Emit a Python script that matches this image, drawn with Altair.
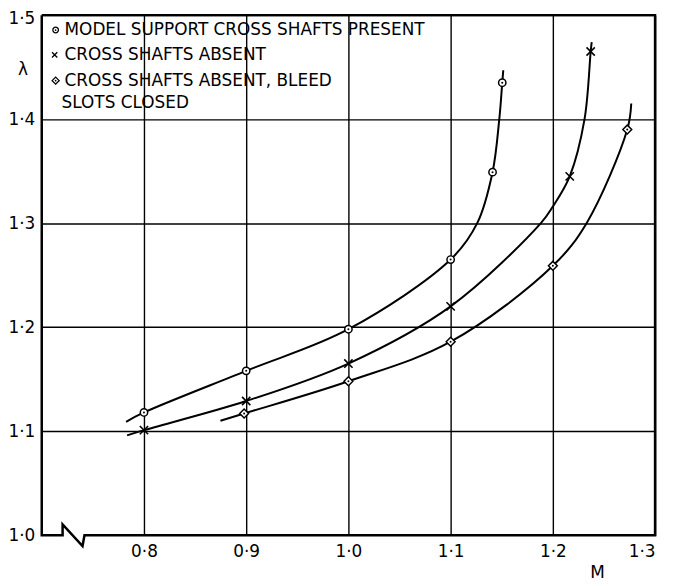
import altair as alt
import pandas as pd

# ---------------- data ----------------
legend_labels = ["MODEL SUPPORT CROSS SHAFTS PRESENT",
                 "CROSS SHAFTS ABSENT",
                 "CROSS SHAFTS ABSENT, BLEED",
                 "SLOTS CLOSED"]

# series 1: model support cross shafts present (circle with dot)
s1_m = [0.8, 0.9, 1.0, 1.1, 1.141, 1.1505]
s1_l = [1.118, 1.158, 1.198, 1.265, 1.349, 1.435]
c1_m = [0.7825, 0.8, 0.9, 1.0, 1.1, 1.126, 1.141, 1.1476, 1.1505, 1.1515]
c1_l = [1.109, 1.118, 1.158, 1.198, 1.265, 1.300, 1.349, 1.400, 1.435, 1.447]

# series 2: cross shafts absent (x)
s2_m = [0.8, 0.9, 1.0, 1.1, 1.2165, 1.237]
s2_l = [1.101, 1.129, 1.165, 1.220, 1.345, 1.465]
c2_m = [0.7835, 0.8, 0.9, 1.0, 1.1, 1.1883, 1.2, 1.2165, 1.231, 1.237, 1.238]
c2_l = [1.096, 1.101, 1.129, 1.165, 1.220, 1.300, 1.316, 1.345, 1.400, 1.465, 1.474]

# series 3: cross shafts absent, bleed slots closed (diamond with dot)
s3_m = [0.898, 1.0, 1.1, 1.2, 1.2728]
s3_l = [1.117, 1.148, 1.186, 1.259, 1.390]
c3_m = [0.8748, 0.898, 1.0, 1.1, 1.2, 1.233, 1.2728, 1.2767]
c3_l = [1.110, 1.117, 1.148, 1.186, 1.259, 1.300, 1.390, 1.415]

x_ticks = [0.8, 0.9, 1.0, 1.1, 1.2, 1.3]
y_ticks = [1.0, 1.1, 1.2, 1.3, 1.4, 1.5]

# frame with axis-break zigzag on the bottom edge
frame_m = [0.7, 0.7, 0.7204, 0.7204, 0.7399, 0.7418, 1.3, 1.3, 0.7]
frame_l = [1.5, 1.0, 1.0, 1.0104, 0.9896, 1.0, 1.0, 1.5, 1.5]

# ---------------- chart ----------------
W, H = 618, 524
FONT = "DejaVu Sans"
XS = alt.Scale(domain=[0.7, 1.3], nice=False, zero=False)
YS = alt.Scale(domain=[1.0, 1.5], nice=False, zero=False)
LBL = "replace(format(datum.value, '.1f'), '.', '\u00b7')"

x_axis = alt.Axis(values=x_ticks, labelExpr=LBL, grid=True, gridColor="black",
                  gridWidth=1.4, ticks=False, domain=False, labelPadding=8,
                  labelFont=FONT, labelFontSize=17, labelColor="black", title=None)
y_axis = alt.Axis(values=y_ticks, labelExpr=LBL, grid=True, gridColor="black",
                  gridWidth=1.4,
                  gridOpacity={"condition": {"test": "datum.value < 1.05", "value": 0}, "value": 1},
                  labelOffset={"condition": {"test": "datum.value > 1.45", "value": 3}, "value": 0},
                  ticks=False, domain=False, labelPadding=7,
                  labelFont=FONT, labelFontSize=17, labelColor="black", title=None)

def X():
    return alt.X("M:Q", scale=XS, axis=x_axis)

def Y():
    return alt.Y("L:Q", scale=YS, axis=y_axis)

curves = pd.concat([
    pd.DataFrame({"M": c1_m, "L": c1_l, "s": "a", "i": range(len(c1_m))}),
    pd.DataFrame({"M": c2_m, "L": c2_l, "s": "b", "i": range(len(c2_m))}),
    pd.DataFrame({"M": c3_m, "L": c3_l, "s": "c", "i": range(len(c3_m))}),
])

base_lines = alt.Chart(curves).mark_line(
    interpolate="catmull-rom", color="black", strokeWidth=2
).encode(x=X(), y=Y(), detail="s:N", order="i:Q")

frame_df = pd.DataFrame({"M": frame_m, "L": frame_l, "i": range(len(frame_m))})
frame = alt.Chart(frame_df).mark_line(color="black", strokeWidth=2.5, clip=False).encode(
    x=X(), y=Y(), order="i:Q")

def pts(m, l):
    return alt.Chart(pd.DataFrame({"M": m, "L": l})).encode(x=X(), y=Y())

XSHAPE = "M-1,-1L1,1M-1,1L1,-1"
p1 = pts(s1_m, s1_l).mark_point(shape="circle", size=55, filled=True, fill="white",
                                stroke="black", strokeWidth=1.5, opacity=1)
p1d = pts(s1_m, s1_l).mark_point(shape="circle", size=4, filled=True, color="black", opacity=1)
p2 = pts(s2_m, s2_l).mark_point(shape=XSHAPE, size=70, filled=False,
                                color="black", strokeWidth=1.6, opacity=1)
p3 = pts(s3_m, s3_l).mark_point(shape="diamond", size=80, filled=True, fill="white",
                                stroke="black", strokeWidth=1.5, opacity=1)
p3d = pts(s3_m, s3_l).mark_point(shape="circle", size=4, filled=True, color="black", opacity=1)

# ---- legend drawn inside the plot (pixel offsets from plot origin) ----
one = pd.DataFrame({"k": [0]})
leg_layers = []
sym_x, txt_x = 14, 23
row_y = [15, 40, 66, 89]
for lab, yy, xx in zip(legend_labels, row_y, [txt_x, txt_x, txt_x, 20]):
    leg_layers.append(alt.Chart(one).mark_text(
        text=lab, align="left", baseline="middle", font=FONT, fontSize=17, color="black"
    ).encode(x=alt.value(xx), y=alt.value(yy)))
leg_layers.append(alt.Chart(one).mark_point(shape="circle", size=32, filled=True, fill="white",
                  stroke="black", strokeWidth=1.3, opacity=1).encode(x=alt.value(sym_x), y=alt.value(row_y[0])))
leg_layers.append(alt.Chart(one).mark_point(shape="circle", size=3, filled=True, color="black",
                  opacity=1).encode(x=alt.value(sym_x), y=alt.value(row_y[0])))
leg_layers.append(alt.Chart(one).mark_point(shape=XSHAPE, size=28, filled=False,
                  color="black", strokeWidth=1.3, opacity=1).encode(x=alt.value(sym_x - 1), y=alt.value(row_y[1])))
leg_layers.append(alt.Chart(one).mark_point(shape="diamond", size=50, filled=True, fill="white",
                  stroke="black", strokeWidth=1.3, opacity=1).encode(x=alt.value(sym_x), y=alt.value(row_y[2])))
leg_layers.append(alt.Chart(one).mark_point(shape="circle", size=3, filled=True, color="black",
                  opacity=1).encode(x=alt.value(sym_x), y=alt.value(row_y[2])))

# axis titles
lam = alt.Chart(one).mark_text(text="\u03bb", font=FONT, fontSize=17, color="black",
                               baseline="middle").encode(x=alt.value(-19), y=alt.value(55))
mlab = alt.Chart(one).mark_text(text="M", font=FONT, fontSize=17, color="black",
                                baseline="middle").encode(x=alt.value(560), y=alt.value(H + 38))

chart = alt.layer(base_lines, frame, p1, p1d, p2, p3, p3d, *leg_layers, lam, mlab).properties(
    width=W, height=H,
    autosize=alt.AutoSizeParams(type="none"),
    padding={"left": 34, "top": 5, "right": 10, "bottom": 45},
    background="white",
).configure_view(stroke=None)

chart.save("out.html", embed_options={"renderer": "svg", "actions": False})
